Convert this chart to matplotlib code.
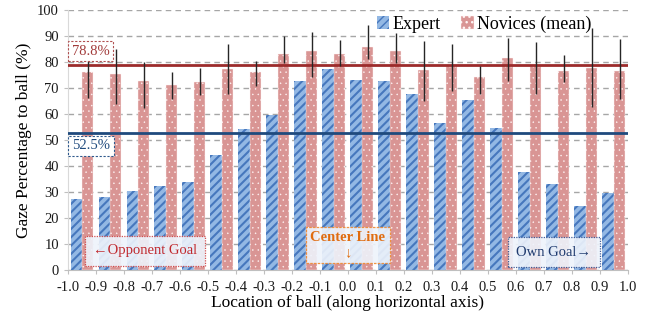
import numpy as np
import matplotlib
matplotlib.use("Agg")
import matplotlib.pyplot as plt

plt.rcParams["font.family"] = ["Liberation Serif", "DejaVu Serif"]
plt.rcParams["axes.unicode_minus"] = False

# data
bin_centers = np.round(np.arange(-0.95, 1.0, 0.1), 2)
expert = [27.3, 28.0, 30.4, 32.4, 33.8, 44.1, 54.3, 59.6, 72.8, 77.4,
          73.1, 72.7, 67.7, 56.5, 65.3, 54.7, 37.7, 33.2, 24.6, 29.7]
novices = [76.2, 75.3, 72.8, 71.2, 72.3, 77.3, 76.0, 83.0, 84.1, 83.1,
           85.8, 84.4, 76.9, 78.6, 74.2, 81.4, 78.6, 76.7, 77.8, 76.7]
err_up = [10.0, 9.6, 7.3, 4.8, 5.5, 9.6, 4.4, 7.0, 7.4, 5.4,
          8.6, 6.6, 11.3, 8.3, 4.4, 7.7, 9.1, 6.0, 15.3, 12.0]
err_low = [10.0, 11.3, 10.5, 5.4, 5.1, 9.5, 5.1, 3.5, 10.0, 4.5,
           4.8, 4.7, 11.8, 9.6, 6.4, 8.6, 10.8, 4.3, 15.1, 10.8]
novice_mean = 78.8
expert_mean = 52.5
xticks = np.round(np.arange(-1.0, 1.01, 0.1), 1)

fig = plt.figure(figsize=(6.5, 3.21), dpi=100)
ax = fig.add_axes([0.1046, 0.159, 0.8614, 0.81])

w = 0.041
with plt.rc_context({"hatch.linewidth": 1.5}):
    b1 = ax.bar(bin_centers - w / 2, expert, width=w, color="#93b8e4",
                edgecolor="#4677bd", linewidth=0, hatch="////", zorder=2,
                label="Expert")
with plt.rc_context({"hatch.linewidth": 0.3}):
    b2 = ax.bar(bin_centers + w / 2, novices, width=w, color="#d99594",
                edgecolor="#fff4f4", linewidth=0.3, hatch="...", zorder=2,
                label="Novices (mean)")
for p in b1:
    if hasattr(p, "set_hatch_linewidth"):
        p.set_hatch_linewidth(1.5)
for p in b2:
    if hasattr(p, "set_hatch_linewidth"):
        p.set_hatch_linewidth(0.3)
ax.errorbar(bin_centers + w / 2, novices, yerr=[err_low, err_up], fmt="none",
            ecolor="#262626", elinewidth=1, capsize=0, zorder=4)

ax.axhline(novice_mean, color="#9c2b2b", lw=2, zorder=3)
ax.axhline(expert_mean, color="#1f4a7d", lw=2, zorder=3)

ax.text(-0.918, 84.2, f"{novice_mean}%", color="#a23b3a", fontsize=10.5,
        ha="center", va="center", zorder=5,
        bbox=dict(boxstyle="square,pad=0.25", fc="white", ec="#b05050",
                  ls=(0, (2, 1.5)), lw=0.8))
ax.text(-0.918, 47.7, f"{expert_mean}%", color="#1f4a7d", fontsize=10.5,
        ha="center", va="center", zorder=5,
        bbox=dict(boxstyle="square,pad=0.25", fc="white", ec="#2f5a8d",
                  ls=(0, (2, 1.5)), lw=0.8))

# annotation boxes
ax.text(-0.725, 7.3, "\u2190Opponent Goal", color="#c0282d", fontsize=10.5,
        ha="center", va="center", zorder=5,
        bbox=dict(boxstyle="square,pad=0.55", fc="#eef3fb", ec="#d04040",
                  ls=(0, (1, 1)), lw=0.9, alpha=0.9))
ax.text(0.0, 9.6, "Center Line\n\u2193", color="#e06c10", fontsize=10.5,
        fontweight="bold", ha="center", va="center", linespacing=1.2, zorder=5,
        bbox=dict(boxstyle="square,pad=0.3", fc="#eef3fb", ec="#f08a30",
                  ls=(0, (2, 1)), lw=0.9, alpha=0.9))
ax.text(0.736, 6.9, "Own Goal\u2192", color="#1f3a6e", fontsize=10.5,
        ha="center", va="center", zorder=5,
        bbox=dict(boxstyle="square,pad=0.55", fc="#eef3fb", ec="#2f4f8f",
                  ls=(0, (1, 1)), lw=0.9, alpha=0.9))

ax.set_xlim(-1.0, 1.0)
ax.set_ylim(0, 100)
ax.set_xticks(xticks)
ax.set_xticklabels([f"{abs(t):.1f}" if t == 0 else f"{t:.1f}" for t in xticks])
ax.set_yticks(range(0, 101, 10))
ax.tick_params(axis="both", labelsize=10.5, colors="#bfbfbf", length=3,
               width=0.8, labelcolor="#1a1a1a")
ax.tick_params(axis="x", pad=5)
ax.yaxis.grid(True, color="#a6a6a6", ls=(0, (4, 3)), lw=1)
ax.set_axisbelow(True)
for s in ["top", "right"]:
    ax.spines[s].set_visible(False)
ax.spines["left"].set_color("#d9d9d9")
ax.spines["bottom"].set_color("#bfbfbf")

ax.set_xlabel("Location of ball (along horizontal axis)", fontsize=12.5, labelpad=1)
ax.set_ylabel("Gaze Percentage to ball (%)", fontsize=12.5, labelpad=4)

fig.legend(loc="center left", bbox_to_anchor=(0.56, 0.925), ncol=2,
           frameon=False, fontsize=13, handlelength=0.7, handleheight=0.7,
           handletextpad=0.2, columnspacing=1.1, borderpad=0.2)

fig.savefig("out.png", dpi=100)
